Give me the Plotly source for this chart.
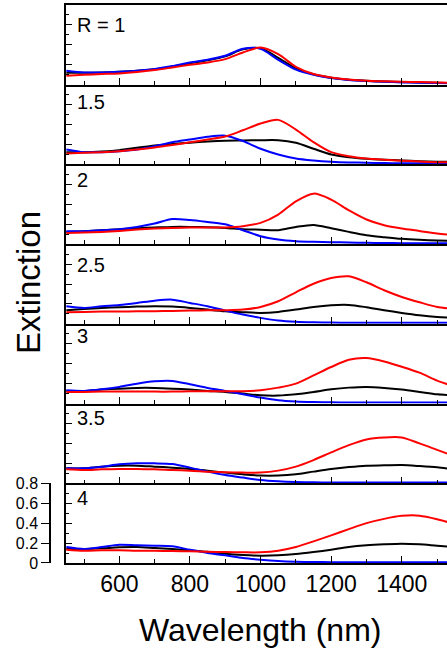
import plotly.graph_objects as go
from plotly.subplots import make_subplots

# ---------------- data ----------------
wavelength = [450, 500, 550, 600, 650, 700, 750, 800, 850, 900, 950, 1000,
              1050, 1100, 1150, 1200, 1250, 1300, 1350, 1400, 1450, 1500, 1550]

panel_labels = ["R = 1", "1.5", "2", "2.5", "3", "3.5", "4"]

black_r1 = [0.12, 0.12, 0.123, 0.13, 0.14, 0.155, 0.18, 0.215, 0.245, 0.285, 0.355, 0.365,
            0.27, 0.165, 0.105, 0.07, 0.05, 0.04, 0.032, 0.026, 0.022, 0.019, 0.017]
blue_r1 = [0.14, 0.123, 0.123, 0.13, 0.14, 0.157, 0.187, 0.223, 0.25, 0.29, 0.36, 0.36,
           0.25, 0.152, 0.1, 0.067, 0.047, 0.037, 0.03, 0.023, 0.02, 0.017, 0.015]
red_r1 = [0.09, 0.1, 0.107, 0.113, 0.127, 0.147, 0.173, 0.2, 0.223, 0.257, 0.323, 0.373,
          0.307, 0.18, 0.107, 0.073, 0.053, 0.04, 0.034, 0.03, 0.026, 0.022, 0.02]

black_r15 = [0.123, 0.123, 0.13, 0.143, 0.167, 0.19, 0.205, 0.218, 0.23, 0.238, 0.24, 0.243,
             0.243, 0.217, 0.157, 0.1, 0.073, 0.057, 0.047, 0.04, 0.033, 0.027, 0.025]
blue_r15 = [0.15, 0.123, 0.123, 0.133, 0.15, 0.183, 0.223, 0.25, 0.277, 0.288, 0.235, 0.157,
            0.1, 0.06, 0.04, 0.027, 0.02, 0.017, 0.014, 0.012, 0.012, 0.011, 0.01]
red_r15 = [0.11, 0.117, 0.123, 0.133, 0.15, 0.17, 0.195, 0.222, 0.25, 0.28, 0.343, 0.41,
           0.447, 0.35, 0.223, 0.123, 0.083, 0.06, 0.047, 0.037, 0.03, 0.023, 0.02]

black_r2 = [0.123, 0.13, 0.14, 0.15, 0.16, 0.167, 0.173, 0.173, 0.17, 0.163, 0.15, 0.145,
            0.14, 0.173, 0.193, 0.16, 0.123, 0.09, 0.07, 0.053, 0.043, 0.037, 0.033]
blue_r2 = [0.13, 0.13, 0.14, 0.15, 0.173, 0.207, 0.252, 0.243, 0.223, 0.2, 0.14, 0.08,
           0.047, 0.03, 0.023, 0.02, 0.016, 0.013, 0.012, 0.01, 0.01, 0.01, 0.01]
red_r2 = [0.113, 0.117, 0.123, 0.133, 0.147, 0.157, 0.163, 0.167, 0.167, 0.167, 0.18, 0.213,
          0.297, 0.43, 0.507, 0.447, 0.34, 0.247, 0.19, 0.157, 0.133, 0.107, 0.09]

black_r25 = [0.137, 0.15, 0.16, 0.167, 0.173, 0.177, 0.173, 0.16, 0.143, 0.127, 0.117, 0.11,
             0.12, 0.143, 0.17, 0.187, 0.19, 0.167, 0.137, 0.11, 0.087, 0.07, 0.06]
blue_r25 = [0.177, 0.16, 0.177, 0.19, 0.21, 0.233, 0.243, 0.21, 0.177, 0.133, 0.093, 0.06,
            0.033, 0.02, 0.015, 0.013, 0.011, 0.01, 0.01, 0.01, 0.01, 0.01, 0.01]
red_r25 = [0.117, 0.12, 0.123, 0.123, 0.127, 0.127, 0.13, 0.133, 0.137, 0.137, 0.143, 0.17,
           0.227, 0.317, 0.403, 0.46, 0.477, 0.417, 0.337, 0.27, 0.217, 0.17, 0.15]

black_r3 = [0.127, 0.127, 0.14, 0.15, 0.157, 0.157, 0.15, 0.14, 0.127, 0.117, 0.1, 0.083,
            0.08, 0.093, 0.117, 0.143, 0.16, 0.167, 0.157, 0.14, 0.117, 0.093, 0.08]
blue_r3 = [0.133, 0.127, 0.143, 0.167, 0.2, 0.223, 0.227, 0.193, 0.157, 0.127, 0.093, 0.06,
           0.033, 0.02, 0.015, 0.013, 0.011, 0.01, 0.01, 0.01, 0.01, 0.01, 0.01]
red_r3 = [0.117, 0.117, 0.12, 0.12, 0.12, 0.12, 0.12, 0.123, 0.123, 0.123, 0.123, 0.133,
          0.16, 0.2, 0.283, 0.367, 0.44, 0.457, 0.423, 0.37, 0.31, 0.23, 0.17]

black_r35 = [0.15, 0.15, 0.167, 0.177, 0.177, 0.167, 0.157, 0.143, 0.127, 0.107, 0.09, 0.077,
             0.077, 0.09, 0.117, 0.143, 0.163, 0.177, 0.18, 0.183, 0.173, 0.16, 0.14]
blue_r35 = [0.15, 0.15, 0.167, 0.19, 0.2, 0.2, 0.193, 0.157, 0.117, 0.083, 0.057, 0.033,
            0.02, 0.013, 0.01, 0.008, 0.008, 0.008, 0.008, 0.008, 0.008, 0.008, 0.008]
red_r35 = [0.14, 0.133, 0.14, 0.143, 0.143, 0.14, 0.133, 0.127, 0.117, 0.11, 0.107, 0.107,
           0.127, 0.167, 0.233, 0.31, 0.383, 0.44, 0.46, 0.46, 0.4, 0.335, 0.27]

black_r4 = [0.14, 0.14, 0.147, 0.157, 0.16, 0.15, 0.14, 0.127, 0.113, 0.093, 0.08, 0.073,
            0.077, 0.09, 0.11, 0.133, 0.16, 0.177, 0.187, 0.193, 0.187, 0.173, 0.16]
blue_r4 = [0.16, 0.14, 0.16, 0.183, 0.177, 0.173, 0.167, 0.133, 0.1, 0.077, 0.05, 0.033,
           0.02, 0.013, 0.01, 0.008, 0.008, 0.008, 0.008, 0.008, 0.008, 0.008, 0.008]
red_r4 = [0.133, 0.123, 0.127, 0.127, 0.123, 0.123, 0.12, 0.117, 0.113, 0.11, 0.107, 0.107,
          0.123, 0.16, 0.217, 0.277, 0.34, 0.4, 0.443, 0.473, 0.475, 0.44, 0.39]

black_series = [black_r1, black_r15, black_r2, black_r25, black_r3, black_r35, black_r4]
blue_series = [blue_r1, blue_r15, blue_r2, blue_r25, blue_r3, blue_r35, blue_r4]
red_series = [red_r1, red_r15, red_r2, red_r25, red_r3, red_r35, red_r4]

scale_ticks = [0, 0.2, 0.4, 0.6, 0.8]
x_ticks = [600, 800, 1000, 1200, 1400]

# ---------------- figure ----------------
W, H = 447, 649
ML, MR, MT, MB = 30, 0, 5, 86
PW, PH = W - ML - MR, H - MT - MB
FONT = "Liberation Sans, Arial, sans-serif"

def px_x(p):
    return (p - ML) / PW

def px_y(p):
    return (H - MB - p) / PH

n = len(panel_labels)
fig = make_subplots(rows=n, cols=1, shared_xaxes=True, vertical_spacing=0)

colors = ["#000000", "#0000ff", "#ff0000"]
for i in range(n):
    for ser, c in zip((black_series, blue_series, red_series), colors):
        fig.add_trace(go.Scatter(x=wavelength, y=ser[i], mode="lines",
                                 line=dict(color=c, width=2, shape="spline", smoothing=0.8),
                                 showlegend=False, hoverinfo="skip"),
                      row=i + 1, col=1)

x_dom = [px_x(66), 1.0]
for i in range(1, n + 1):
    fig.update_xaxes(row=i, col=1, domain=x_dom, range=[449, 1528],
                     showline=True, mirror=(i == 1), linecolor="black", linewidth=1.5,
                     ticks="inside", tickvals=x_ticks, ticklen=7, tickwidth=1.2,
                     tickcolor="black",
                     minor=dict(ticks="inside", dtick=100, tick0=0, ticklen=4,
                                tickcolor="black", tickwidth=1.2),
                     showgrid=False, zeroline=False,
                     showticklabels=(i == n),
                     tickfont=dict(family=FONT, size=23, color="black"))
    fig.update_yaxes(row=i, col=1, range=[0, 0.8], showline=True, linecolor="black",
                     linewidth=1.5, ticks="inside", tick0=0, dtick=0.2, ticklen=6,
                     tickwidth=1.2, tickcolor="black",
                     minor=dict(ticks="inside", dtick=0.1, tick0=0, ticklen=3,
                                tickcolor="black", tickwidth=1.2),
                     showgrid=False, zeroline=False, showticklabels=False)

# scale bar axis on the left of the bottom panel
fig.add_trace(go.Scatter(x=[], y=[], xaxis="x7", yaxis="y8", showlegend=False,
                         hoverinfo="skip"))
fig.update_layout(yaxis8=dict(overlaying="y7", anchor="free", position=px_x(50),
                              side="left", range=[0, 0.8], tickvals=scale_ticks,
                              ticktext=["0", "0.2", "0.4", "0.6", "0.8"],
                              ticks="outside", ticklen=8, tickwidth=1.2, tickcolor="black",
                              showline=True, linecolor="black", linewidth=1.5,
                              showgrid=False, zeroline=False,
                              tickfont=dict(family=FONT, size=16, color="black")))

label_y = [25, 101.7, 179.7, 265, 335.5, 418, 498]
for lab, yy in zip(panel_labels, label_y):
    fig.add_annotation(text=lab, x=px_x(75), y=px_y(yy), xref="paper", yref="paper",
                       xanchor="left", yanchor="middle", showarrow=False,
                       font=dict(family=FONT, size=20, color="black"))

fig.add_annotation(text="Extinction", x=px_x(28), y=px_y(283), xref="paper", yref="paper",
                   textangle=-90, showarrow=False, xanchor="center", yanchor="middle",
                   font=dict(family=FONT, size=33, color="black"))
fig.add_annotation(text="Wavelength (nm)", x=px_x(260), y=px_y(630), xref="paper",
                   yref="paper", showarrow=False, xanchor="center", yanchor="middle",
                   font=dict(family=FONT, size=32, color="black"))

fig.update_layout(width=W, height=H, margin=dict(l=ML, r=MR, t=MT, b=MB, autoexpand=False),
                  paper_bgcolor="white", plot_bgcolor="white",
                  font=dict(family=FONT, color="black"))

fig.write_html("out.html", config={"displayModeBar": False},
               post_script="document.body.style.margin='0px';"
                           "document.body.style.overflow='hidden';")
